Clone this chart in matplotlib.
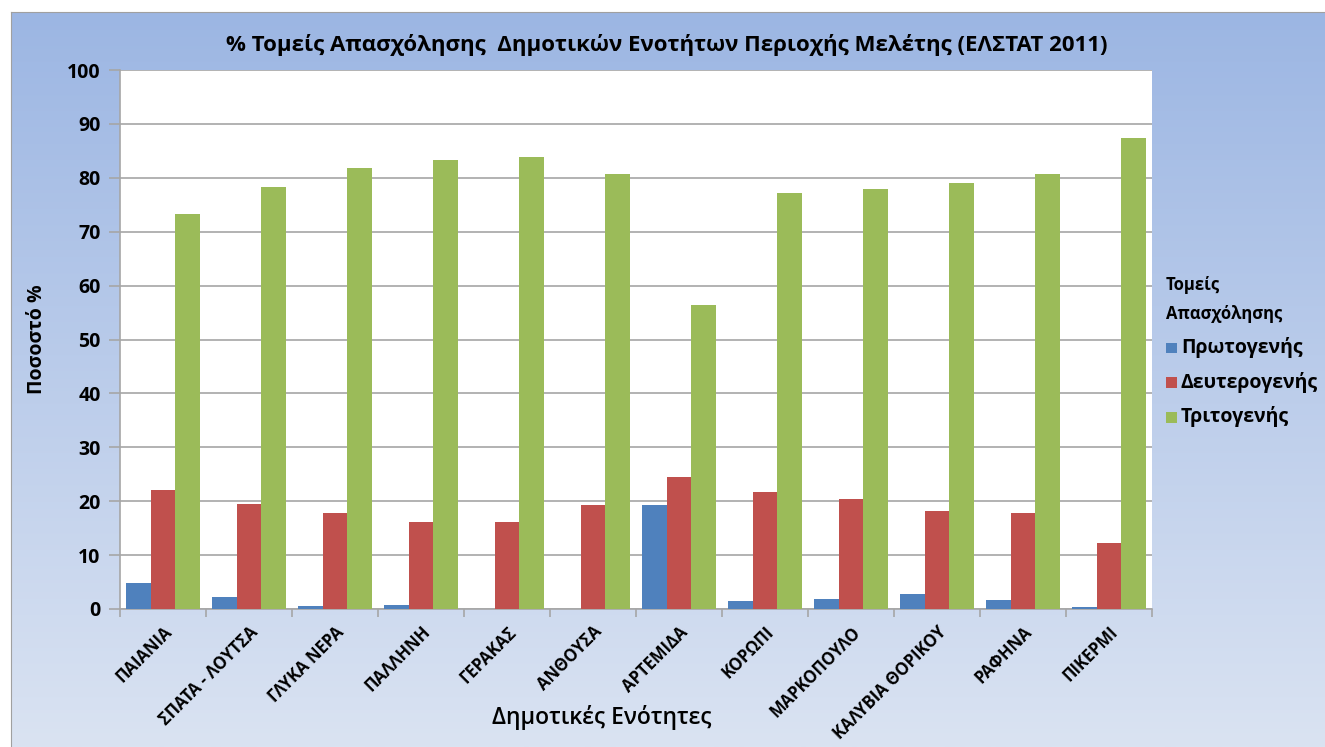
import matplotlib.pyplot as plt
import numpy as np

plt.rcParams['font.family'] = ['Open Sans', 'DejaVu Sans']

categories = ['ΠΑΙΑΝΙΑ', 'ΣΠΑΤΑ - ΛΟΥΤΣΑ', 'ΓΛΥΚΑ ΝΕΡΑ', 'ΠΑΛΛΗΝΗ', 'ΓΕΡΑΚΑΣ', 'ΑΝΘΟΥΣΑ',
              'ΑΡΤΕΜΙΔΑ', 'ΚΟΡΩΠΙ', 'ΜΑΡΚΟΠΟΥΛΟ', 'ΚΑΛΥΒΙΑ ΘΟΡΙΚΟΥ', 'ΡΑΦΗΝΑ', 'ΠΙΚΕΡΜΙ']
primary = [4.8, 2.2, 0.5, 0.7, 0.0, 0.0, 19.3, 1.5, 1.9, 2.8, 1.7, 0.4]
secondary = [22.1, 19.5, 17.8, 16.1, 16.1, 19.3, 24.5, 21.7, 20.4, 18.2, 17.8, 12.2]
tertiary = [73.3, 78.3, 81.8, 83.3, 83.9, 80.7, 56.4, 77.2, 77.9, 79.0, 80.7, 87.4]
series_names = ['Πρωτογενής', 'Δευτερογενής', 'Τριτογενής']
colors = ['#4F81BD', '#C0504D', '#9BBB59']

fig = plt.figure(figsize=(13.25, 7.47), dpi=100)
fig.patch.set_facecolor('white')

# gradient background of the chart area
bg = fig.add_axes([11/1325, 0, 1 - 11/1325, 1 - 12/747])
grad = np.linspace(0, 1, 256).reshape(-1, 1)
top = np.array([0x9C, 0xB6, 0xE3]) / 255
bot = np.array([0xDA, 0xE3, 0xF2]) / 255
img = top + (bot - top) * grad[:, :, None]
bg.imshow(img, aspect='auto', extent=[0, 1, 0, 1])
bg.set_xticks([]); bg.set_yticks([])
for s in ['top', 'left']:
    bg.spines[s].set_color('#A0A0A0')
for s in ['bottom', 'right']:
    bg.spines[s].set_visible(False)

ax = fig.add_axes([120/1325, 1 - 609/747, 1032/1325, 539/747])
ax.set_facecolor('white')
x = np.arange(len(categories))
w = 0.29
for i, (vals, name, c) in enumerate(zip([primary, secondary, tertiary], series_names, colors)):
    ax.bar(x + (i - 1) * w, vals, w, color=c, label=name, zorder=3)

ax.set_xlim(-0.5, len(categories) - 0.5)
ax.set_ylim(0, 100)
ax.set_yticks(range(0, 101, 10))
ax.yaxis.grid(True, color='#A6A6A6', linewidth=1.2, zorder=0)
ax.tick_params(axis='y', length=8, width=1.2, color='#A6A6A6', labelsize=14, pad=6)
for lab in ax.get_yticklabels():
    lab.set_fontweight('bold')

ax.set_xticks(x)
ax.set_xticklabels(categories, rotation=45, ha='right', rotation_mode='anchor',
                   fontsize=12, fontweight='bold')
ax.tick_params(axis='x', length=0, pad=10)
ax.set_xticks(np.arange(-0.5, len(categories)), minor=True)
ax.tick_params(axis='x', which='minor', length=6, width=1.2, color='#A6A6A6')

for s in ['top', 'right']:
    ax.spines[s].set_visible(False)
for s in ['left', 'bottom']:
    ax.spines[s].set_color('#A6A6A6')
    ax.spines[s].set_linewidth(1.2)

ax.set_ylabel('Ποσοστό %', fontsize=14, fontweight='bold', labelpad=14)
fig.text(602/1325, 1 - 718/747, 'Δημοτικές Ενότητες', fontsize=16.5, fontweight='semibold',
         ha='center', va='center')
fig.text(667/1325, 1 - 45/747,
         '% Τομείς Απασχόλησης  Δημοτικών Ενοτήτων Περιοχής Μελέτης (ΕΛΣΤΑΤ 2011)',
         fontsize=16, fontweight='bold', ha='center', va='center')

leg = fig.legend(loc='upper left', bbox_to_anchor=(1160/1325, 1 - 270/747), frameon=False,
                 title='Τομείς\nΑπασχόλησης', handlelength=0.8, handleheight=0.8,
                 handletextpad=0.3, labelspacing=1.0, borderaxespad=0)
leg.get_title().set_fontweight('bold')
leg.get_title().set_fontsize(12)
leg.get_title().set_linespacing(1.8)
leg._legend_box.align = 'left'
for t in leg.get_texts():
    t.set_fontsize(14)
    t.set_fontweight('bold')

fig.savefig('out.png', dpi=100)
